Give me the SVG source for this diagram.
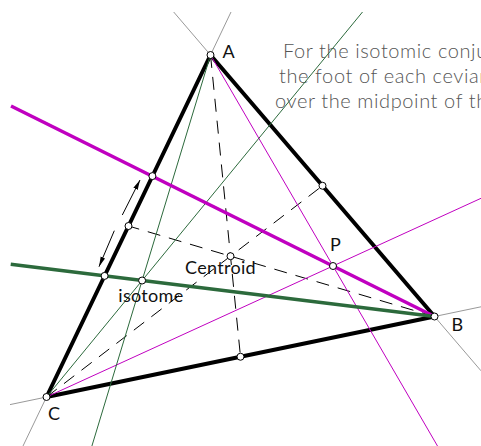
<svg xmlns="http://www.w3.org/2000/svg" width="481" height="446" viewBox="0 0 481 446">
<style>
.ext{stroke:#999;stroke-width:1;fill:none}
.tri{stroke:#000;stroke-width:4;fill:none;stroke-linejoin:round}
.mt{stroke:#c000c0;stroke-width:1;fill:none}
.gt{stroke:#2c6a3c;stroke-width:1;fill:none}
.mT{stroke:#c000c0;stroke-width:3.5;fill:none}
.gT{stroke:#2c6a3c;stroke-width:3.5;fill:none}
.med{stroke:#000;stroke-width:1;stroke-dasharray:13 9;fill:none}
.arr{stroke:#000;stroke-width:1;fill:none;marker-end:url(#ah)}
.pt{fill:#fff;stroke:#000;stroke-width:1}
.lbl{font-family:Lato,"Open Sans","Liberation Sans",sans-serif;font-size:18px;letter-spacing:0.3px;fill:#111}
.note{font-family:Lato,"Open Sans","Liberation Sans",sans-serif;font-weight:300;font-size:20px;letter-spacing:0.6px;fill:#555}
</style>
<defs>
<marker id="ah" viewBox="0 0 10 6" refX="10" refY="3" markerWidth="10" markerHeight="6" markerUnits="userSpaceOnUse" orient="auto">
<path d="M0,0.6 L10,3 L0,5.4 Z" fill="#000"/>
</marker>
</defs>
<g id="note">
<text class="note" x="283" y="58">For the isotomic conju</text>
<text class="note" x="279" y="83">the foot of each cevian</text>
<text class="note" x="275" y="108">over the midpoint of th</text>
</g>
<g id="connectors">
<line class="ext" x1="210.5" y1="55" x2="173.7" y2="12"/>
<line class="ext" x1="210.5" y1="55" x2="231" y2="12"/>
<line class="ext" x1="434.5" y1="316.5" x2="481" y2="306.8"/>
<line class="ext" x1="434.5" y1="316.5" x2="481" y2="370.8"/>
<line class="ext" x1="46.5" y1="397" x2="10" y2="404.6"/>
<line class="ext" x1="46.5" y1="397" x2="23" y2="446"/>
<polygon class="tri" points="210.5,55 434.5,316.5 46.5,397"/>
<line class="med" x1="210.5" y1="55" x2="240.5" y2="356.75"/>
<line class="med" x1="434.5" y1="316.5" x2="128.5" y2="226"/>
<line class="med" x1="46.5" y1="397" x2="322.5" y2="185.75"/>
<line class="mt" x1="210.5" y1="55" x2="437.5" y2="446"/>
<line class="mt" x1="46.5" y1="397" x2="481" y2="198.3"/>
<line class="gt" x1="46.5" y1="397" x2="362.5" y2="12"/>
<line class="gt" x1="210.5" y1="55" x2="91.9" y2="446"/>
<line class="mT" x1="11" y1="106" x2="434.5" y2="316.5"/>
<line class="gT" x1="10.7" y1="264.3" x2="434.5" y2="316.5"/>
<line class="arr" x1="122.3" y1="215" x2="140" y2="180"/>
<line class="arr" x1="114.3" y1="230.7" x2="99" y2="266.7"/>
</g>
<g id="mAB"><circle class="pt" cx="322.5" cy="185.75" r="3.5"/></g>
<g id="mBC"><circle class="pt" cx="240.5" cy="356.75" r="3.5"/></g>
<g id="mCA"><circle class="pt" cx="128.5" cy="226" r="3.5"/></g>
<g id="F"><circle class="pt" cx="152.4" cy="176.1" r="3.5"/></g>
<g id="F2"><circle class="pt" cx="104.6" cy="275.9" r="3.5"/></g>
<g id="centroid"><circle class="pt" cx="230.5" cy="256.2" r="3.5"/><text class="lbl" x="185" y="273.5">Centroid</text></g>
<g id="isotome"><circle class="pt" cx="142.1" cy="280.5" r="3.5"/><text class="lbl" x="118.3" y="301.5">isotome</text></g>
<g id="P"><circle class="pt" cx="333" cy="266" r="3.5"/><text class="lbl" x="330" y="250.7">P</text></g>
<g id="A"><circle class="pt" cx="210.5" cy="55" r="3.5"/><text class="lbl" x="222.5" y="57.5">A</text></g>
<g id="B"><circle class="pt" cx="434.5" cy="316.5" r="3.5"/><text class="lbl" x="451.5" y="330.7">B</text></g>
<g id="C"><circle class="pt" cx="46.5" cy="397" r="3.5"/><text class="lbl" x="48" y="419.7">C</text></g>
</svg>
